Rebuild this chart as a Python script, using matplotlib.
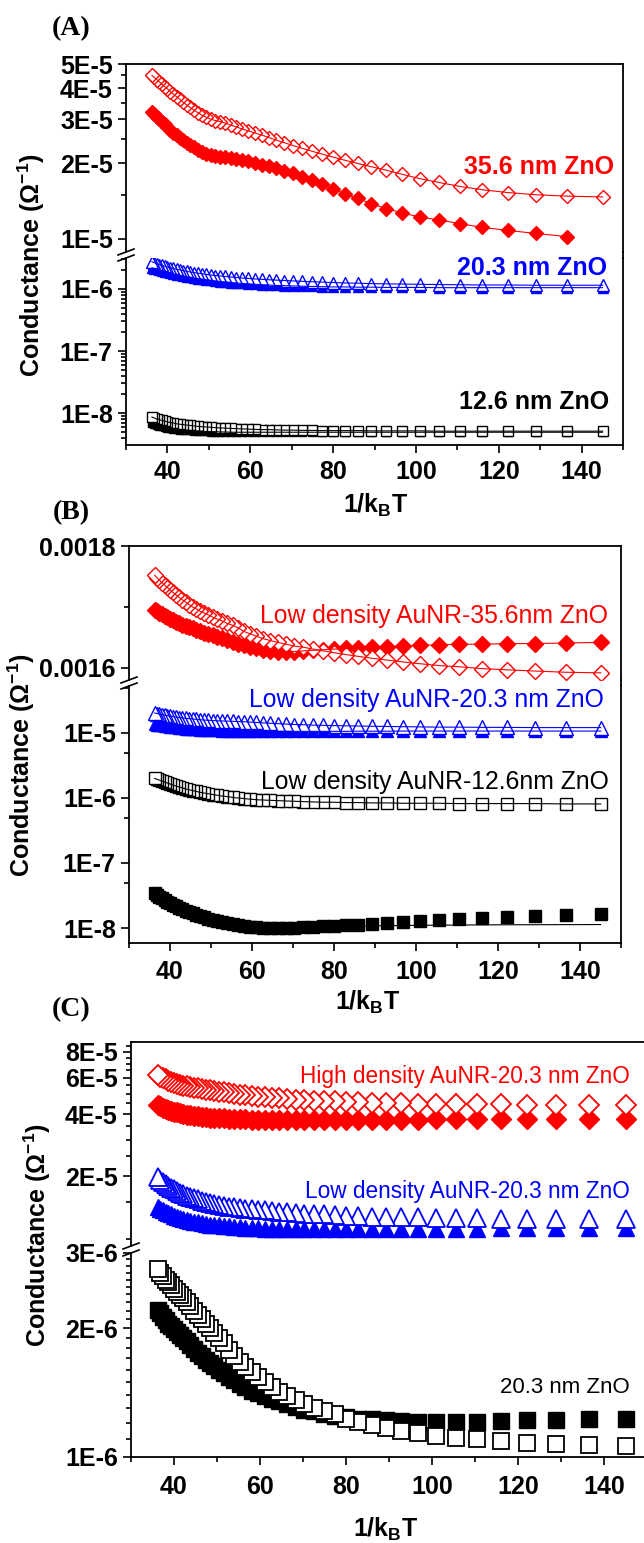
import matplotlib
matplotlib.use("Agg")
import matplotlib.pyplot as plt
import numpy as np
from matplotlib.lines import Line2D
from matplotlib.ticker import FixedLocator, FixedFormatter, NullFormatter

plt.rcParams['font.family'] = ['Liberation Sans', 'DejaVu Sans']
plt.rcParams['font.weight'] = 'bold'
plt.rcParams['mathtext.fontset'] = 'custom'
plt.rcParams['mathtext.rm'] = 'Liberation Sans'
plt.rcParams['mathtext.it'] = 'Liberation Sans:italic'
plt.rcParams['mathtext.bf'] = 'Liberation Sans:bold'

W, H = 644, 1543

# ---- data ----
# temperature sweep (K); x axis is 1/kBT (eV^-1)
temps = [320, 315, 310, 305, 300, 295, 290, 285, 280, 275, 270, 265, 260, 255,
         250, 245, 240, 235, 230, 225, 220, 215, 210, 205, 200, 195, 190, 185,
         180, 175, 170, 165, 160, 155, 150, 145, 140, 135, 130, 125, 120, 115,
         110, 105, 100, 95, 90, 85, 80]
kB = 8.617e-5
x = 1.0 / (kB * np.array(temps, dtype=float))

# (A) bare ZnO films
a_open_red = [4.50, 4.42, 4.33, 4.24, 4.15, 4.06, 3.97, 3.88, 3.79, 3.70, 3.61, 3.52, 3.43, 3.35,
              3.27, 3.19, 3.12, 3.06, 3.01, 2.97, 2.94, 2.90, 2.85, 2.80, 2.75, 2.70, 2.65, 2.60,
              2.54, 2.48, 2.42, 2.36, 2.30, 2.24, 2.18, 2.12, 2.06, 2.00, 1.94, 1.88, 1.81, 1.74,
              1.68, 1.62, 1.57, 1.53, 1.50, 1.48, 1.47]  # x1e-5
a_fill_red = [3.22, 3.15, 3.08, 3.01, 2.94, 2.87, 2.80, 2.73, 2.66, 2.60, 2.54, 2.48, 2.42, 2.37,
              2.32, 2.27, 2.23, 2.19, 2.16, 2.14, 2.13, 2.12, 2.10, 2.08, 2.06, 2.04, 2.01, 1.98,
              1.95, 1.91, 1.87, 1.83, 1.77, 1.71, 1.65, 1.58, 1.51, 1.45, 1.38, 1.32, 1.27, 1.22,
              1.19, 1.15, 1.11, 1.08, 1.05, 1.02]  # x1e-5, stops at 85 K
a_open_blue = [2.75, 2.65, 2.56, 2.48, 2.40, 2.33, 2.26, 2.20, 2.14, 2.08, 2.03, 1.98, 1.93, 1.88,
               1.84, 1.80, 1.76, 1.72, 1.68, 1.65, 1.62, 1.59, 1.56, 1.53, 1.50, 1.48, 1.45, 1.43,
               1.41, 1.39, 1.37, 1.35, 1.33, 1.31, 1.29, 1.27, 1.25, 1.24, 1.22, 1.21, 1.20, 1.19,
               1.18, 1.17, 1.16, 1.16, 1.15, 1.15, 1.15]  # x1e-6
a_fill_blue = [2.20, 2.13, 2.07, 2.01, 1.95, 1.90, 1.85, 1.80, 1.75, 1.70, 1.66, 1.62, 1.58, 1.54,
               1.50, 1.47, 1.44, 1.41, 1.38, 1.35, 1.32, 1.30, 1.27, 1.25, 1.23, 1.21, 1.19, 1.17,
               1.16, 1.14, 1.13, 1.12, 1.11, 1.10, 1.09, 1.08, 1.08, 1.07, 1.07, 1.06, 1.06, 1.06,
               1.05, 1.05, 1.05, 1.05, 1.05, 1.05, 1.05]  # x1e-6
a_open_black = [8.6, 8.3, 8.0, 7.8, 7.6, 7.4, 7.2, 7.0, 6.9, 6.7, 6.6, 6.5, 6.4, 6.3,
                6.2, 6.1, 6.0, 5.95, 5.9, 5.8, 5.75, 5.7, 5.65, 5.6, 5.55, 5.5, 5.45, 5.4,
                5.4, 5.35, 5.3, 5.3, 5.25, 5.25, 5.2, 5.2, 5.2, 5.2, 5.15, 5.15, 5.15, 5.15,
                5.1, 5.1, 5.1, 5.1, 5.1, 5.1, 5.1]  # x1e-9
a_fill_black = [6.8, 6.6, 6.4, 6.25, 6.1, 5.95, 5.8, 5.7, 5.6, 5.5, 5.4, 5.35, 5.3, 5.25,
                5.2, 5.15, 5.1, 5.05, 5.0, 5.0, 4.95, 4.95, 4.9, 4.9, 4.9, 4.9, 4.9, 4.9,
                4.9, 4.9, 4.9, 4.9, 4.9, 4.9, 4.9, 4.9, 4.9, 4.9, 4.9, 4.9, 4.9, 4.9,
                4.9, 4.9, 4.9, 4.9, 4.9, 4.9, 4.9]  # x1e-9

# (B) low density AuNR on ZnO
b_open_red = [1.752, 1.748, 1.744, 1.740, 1.736, 1.732, 1.728, 1.724, 1.720, 1.716, 1.712, 1.708,
              1.704, 1.700, 1.697, 1.693, 1.690, 1.687, 1.683, 1.680, 1.677, 1.673, 1.670, 1.666,
              1.660, 1.656, 1.652, 1.648, 1.645, 1.642, 1.639, 1.636, 1.634, 1.631, 1.628, 1.625,
              1.622, 1.619, 1.616, 1.613, 1.610, 1.607, 1.604, 1.602, 1.599, 1.597, 1.595, 1.593,
              1.592]  # x1e-3
b_fill_red = [1.695, 1.693, 1.690, 1.688, 1.685, 1.683, 1.680, 1.678, 1.675, 1.673, 1.671, 1.669,
              1.667, 1.665, 1.663, 1.661, 1.658, 1.656, 1.654, 1.651, 1.649, 1.646, 1.643, 1.640,
              1.637, 1.634, 1.632, 1.630, 1.628, 1.627, 1.627, 1.627, 1.628, 1.629, 1.630, 1.631,
              1.632, 1.633, 1.634, 1.635, 1.636, 1.637, 1.638, 1.639, 1.639, 1.640, 1.640, 1.641,
              1.642]  # x1e-3
b_open_blue = [2.03, 1.99, 1.95, 1.91, 1.88, 1.85, 1.82, 1.79, 1.76, 1.73, 1.71, 1.68, 1.66, 1.64,
               1.62, 1.60, 1.58, 1.57, 1.55, 1.54, 1.53, 1.52, 1.51, 1.50, 1.49, 1.47, 1.45, 1.43,
               1.41, 1.39, 1.37, 1.35, 1.34, 1.32, 1.31, 1.30, 1.29, 1.28, 1.27, 1.26, 1.25, 1.24,
               1.23, 1.23, 1.22, 1.22, 1.21, 1.21, 1.21]  # x1e-5
b_fill_blue = [1.37, 1.35, 1.33, 1.31, 1.29, 1.27, 1.25, 1.23, 1.22, 1.20, 1.19, 1.17, 1.16, 1.15,
               1.14, 1.13, 1.12, 1.11, 1.10, 1.10, 1.09, 1.08, 1.08, 1.07, 1.07, 1.06, 1.06, 1.06,
               1.06, 1.06, 1.06, 1.06, 1.06, 1.06, 1.06, 1.06, 1.06, 1.065, 1.065, 1.065, 1.07, 1.07,
               1.07, 1.07, 1.07, 1.07, 1.07, 1.07, 1.07]  # x1e-5
b_open_black = [2.00, 1.94, 1.88, 1.82, 1.76, 1.70, 1.64, 1.58, 1.53, 1.48, 1.43, 1.38, 1.34, 1.30,
                1.26, 1.22, 1.19, 1.16, 1.13, 1.10, 1.07, 1.05, 1.02, 1.00, 0.98, 0.96, 0.94, 0.93,
                0.92, 0.91, 0.90, 0.89, 0.88, 0.87, 0.86, 0.86, 0.85, 0.85, 0.84, 0.84, 0.83, 0.83,
                0.83, 0.82, 0.82, 0.82, 0.82, 0.81, 0.81]  # x1e-6
b_fill_black = [3.45, 3.25, 3.05, 2.87, 2.70, 2.55, 2.41, 2.28, 2.16, 2.05, 1.95, 1.85, 1.76, 1.68,
                1.60, 1.53, 1.46, 1.40, 1.34, 1.29, 1.24, 1.19, 1.15, 1.11, 1.08, 1.05, 1.03, 1.01,
                1.00, 1.00, 1.00, 1.01, 1.02, 1.04, 1.06, 1.08, 1.10, 1.13, 1.16, 1.20, 1.23, 1.27,
                1.31, 1.36, 1.41, 1.46, 1.52, 1.58, 1.66]  # x1e-8
b_fit_black_x = [36.27, 40, 45, 50, 55, 60, 65, 70, 80, 90, 100, 120, 145]
b_fit_black_y = [3.45, 2.42, 1.72, 1.36, 1.16, 1.06, 1.02, 1.02, 1.05, 1.08, 1.10, 1.12, 1.13]  # x1e-8

# (C) high vs low density AuNR on 20.3 nm ZnO
c_open_red = [6.15, 6.05, 5.96, 5.88, 5.80, 5.73, 5.66, 5.60, 5.54, 5.49, 5.44, 5.40, 5.36, 5.32,
              5.28, 5.24, 5.20, 5.16, 5.12, 5.09, 5.04, 5.00, 4.96, 4.92, 4.88, 4.85, 4.82, 4.79,
              4.76, 4.73, 4.70, 4.67, 4.64, 4.62, 4.60, 4.58, 4.56, 4.54, 4.52, 4.50, 4.49, 4.48,
              4.47, 4.46, 4.45, 4.44, 4.43, 4.42, 4.42]  # x1e-5
c_fill_red = [4.42, 4.36, 4.30, 4.25, 4.20, 4.15, 4.11, 4.07, 4.03, 4.00, 3.97, 3.94, 3.92, 3.90,
              3.88, 3.86, 3.84, 3.83, 3.82, 3.81, 3.80, 3.79, 3.78, 3.77, 3.76, 3.75, 3.75, 3.74,
              3.74, 3.73, 3.73, 3.73, 3.73, 3.73, 3.73, 3.74, 3.74, 3.75, 3.75, 3.76, 3.76, 3.77,
              3.77, 3.78, 3.78, 3.79, 3.79, 3.80, 3.80]  # x1e-5
c_open_blue = [1.98, 1.93, 1.88, 1.84, 1.80, 1.76, 1.73, 1.70, 1.67, 1.64, 1.61, 1.59, 1.57, 1.55,
               1.53, 1.51, 1.49, 1.47, 1.46, 1.44, 1.43, 1.42, 1.41, 1.40, 1.39, 1.38, 1.37, 1.36,
               1.35, 1.34, 1.33, 1.32, 1.31, 1.31, 1.30, 1.29, 1.29, 1.28, 1.28, 1.27, 1.27, 1.26,
               1.26, 1.26, 1.25, 1.25, 1.25, 1.25, 1.25]  # x1e-5
c_fill_blue = [1.43, 1.40, 1.37, 1.35, 1.33, 1.31, 1.29, 1.27, 1.26, 1.24, 1.23, 1.22, 1.21, 1.20,
               1.19, 1.18, 1.17, 1.16, 1.16, 1.15, 1.15, 1.14, 1.14, 1.13, 1.13, 1.13, 1.12, 1.12,
               1.12, 1.12, 1.11, 1.11, 1.11, 1.11, 1.11, 1.11, 1.11, 1.11, 1.11, 1.115, 1.115, 1.12,
               1.12, 1.12, 1.125, 1.125, 1.13, 1.13, 1.13]  # x1e-5
c_open_black = [2.75, 2.70, 2.65, 2.60, 2.56, 2.52, 2.47, 2.43, 2.39, 2.35, 2.30, 2.25, 2.20, 2.15,
                2.10, 2.05, 2.00, 1.95, 1.90, 1.85, 1.78, 1.72, 1.67, 1.62, 1.58, 1.54, 1.50, 1.46,
                1.42, 1.39, 1.36, 1.33, 1.30, 1.28, 1.26, 1.23, 1.21, 1.19, 1.17, 1.15, 1.14, 1.12,
                1.11, 1.10, 1.09, 1.08, 1.07, 1.065, 1.06]  # x1e-6
c_fill_black = [2.21, 2.17, 2.13, 2.09, 2.05, 2.02, 1.99, 1.96, 1.93, 1.90, 1.87, 1.83, 1.79, 1.75,
                1.72, 1.69, 1.66, 1.63, 1.60, 1.57, 1.54, 1.51, 1.48, 1.46, 1.43, 1.41, 1.39, 1.37,
                1.35, 1.33, 1.31, 1.29, 1.28, 1.26, 1.25, 1.24, 1.23, 1.225, 1.22, 1.215, 1.21, 1.21,
                1.21, 1.21, 1.215, 1.22, 1.22, 1.225, 1.23]  # x1e-6

# axis ticks
x_major = [40, 60, 80, 100, 120, 140]
x_minor = [30, 50, 70, 90, 110, 130, 150]
a_up_ticks = [1e-5, 2e-5, 3e-5, 4e-5, 5e-5]
a_up_labels = ['1E-5', '2E-5', '3E-5', '4E-5', '5E-5']
a_lo_ticks = [1e-8, 1e-7, 1e-6]
a_lo_labels = ['1E-8', '1E-7', '1E-6']
b_up_ticks = [0.0016, 0.0018]
b_up_labels = ['0.0016', '0.0018']
b_lo_ticks = [1e-8, 1e-7, 1e-6, 1e-5]
b_lo_labels = ['1E-8', '1E-7', '1E-6', '1E-5']
c_up_ticks = [2e-5, 4e-5, 6e-5, 8e-5]
c_up_labels = ['2E-5', '4E-5', '6E-5', '8E-5']
c_lo_ticks = [1e-6, 2e-6, 3e-6]
c_lo_labels = ['1E-6', '2E-6', '3E-6']

RED = '#ff0000'
BLUE = '#0000ff'
BLACK = '#000000'

fig = plt.figure(figsize=(W / 100, H / 100), dpi=100)


def px_axes(left, top, right, bottom):
    return fig.add_axes([left / W, 1 - bottom / H, (right - left) / W, (bottom - top) / H])


def style(ax, part, xpad=5):
    for s in ax.spines.values():
        s.set_linewidth(1.3)
    ax.tick_params(which='both', direction='out', width=1.2, labelsize=18,
                   right=False, top=False, pad=3.5)
    ax.tick_params(which='major', length=6)
    ax.tick_params(which='minor', length=3.6)
    ax.tick_params(axis='x', pad=xpad)
    ax.set_xlim(30, 150)
    ax.xaxis.set_major_locator(FixedLocator(x_major))
    ax.xaxis.set_minor_locator(FixedLocator(x_minor))
    if part == 'upper':
        ax.spines['bottom'].set_visible(False)
        ax.tick_params(axis='x', which='both', bottom=False, labelbottom=False)
    else:
        ax.spines['top'].set_visible(False)


def yticks(ax, ticks, labels, minor):
    ax.yaxis.set_major_locator(FixedLocator(ticks))
    ax.yaxis.set_major_formatter(FixedFormatter(labels))
    ax.yaxis.set_minor_locator(FixedLocator(minor))
    ax.yaxis.set_minor_formatter(NullFormatter())


def series(ax, ys, scale, marker, color, ms, filled, line=True, mew=1.0, xs=None):
    if xs is None:
        xs = x[:len(ys)]
    xs = np.asarray(xs)[::-1]
    ys = np.asarray(ys)[::-1] * scale
    ax.plot(xs, ys, linestyle='none', marker=marker, ms=ms, mew=mew, mec=color,
            mfc=color if filled else 'white', zorder=3 if filled else 4)
    if line:
        ax.plot(xs, ys, '-', color=color, lw=0.8, zorder=5)


def fit_line(ax, xs, ys, scale, color):
    ax.plot(xs, np.asarray(ys) * scale, '-', color=color, lw=0.8, zorder=5)


def breaks(left, right, y1, y2):
    # "//" marks on the left spine, right spine kept continuous
    for yb in (y1, y2):
        fig.add_artist(Line2D([(left - 8) / W, (left + 8) / W],
                              [1 - (yb + 3) / H, 1 - (yb - 3) / H],
                              color='black', lw=1.2))
    fig.add_artist(Line2D([right / W, right / W], [1 - y1 / H, 1 - y2 / H],
                          color='black', lw=1.3))


def ftext(xp, yp, s, **kw):
    fig.text(xp / W, 1 - yp / H, s, **kw)


# ---------------- panel A ----------------
axA1 = px_axes(126, 64, 623, 252)
axA2 = px_axes(126, 258, 623, 445)
for ax, part in ((axA1, 'upper'), (axA2, 'lower')):
    ax.set_yscale('log')
    style(ax, part, xpad=5)
axA1.set_ylim(8.85e-6, 5e-5)
axA2.set_ylim(3.05e-9, 3.16e-6)
yticks(axA1, a_up_ticks, a_up_labels, [1.5e-5, 2.5e-5, 3.5e-5, 4.5e-5])
yticks(axA2, a_lo_ticks, a_lo_labels,
       [m * 10.0 ** e for e in (-9, -8, -7, -6) for m in range(2, 10)])

series(axA1, a_fill_red, 1e-5, 'D', RED, 7.5, True)
series(axA1, a_open_red, 1e-5, 'D', RED, 7.5, False)
series(axA2, a_fill_blue, 1e-6, '^', BLUE, 7, True)
series(axA2, a_open_blue, 1e-6, '^', BLUE, 9, False)
series(axA2, a_fill_black, 1e-9, 's', BLACK, 6, True)
series(axA2, a_open_black, 1e-9, 's', BLACK, 7.5, False)
breaks(126, 623, 252, 258)

ftext(614, 174, '35.6 nm ZnO', color=RED, fontsize=18, ha='right', va='baseline')
ftext(607, 275, '20.3 nm ZnO', color=BLUE, fontsize=18, ha='right', va='baseline')
ftext(609, 409, '12.6 nm ZnO', color=BLACK, fontsize=18, ha='right', va='baseline')

# ---------------- panel B ----------------
axB1 = px_axes(129, 546, 621, 680)
axB2 = px_axes(129, 686, 621, 943)
style(axB1, 'upper')
axB2.set_yscale('log')
style(axB2, 'lower', xpad=6.5)
axB1.set_ylim(0.0015803, 0.0018)
axB2.set_ylim(5.88e-9, 5.28e-5)
yticks(axB1, b_up_ticks, b_up_labels, [0.0017])
yticks(axB2, b_lo_ticks, b_lo_labels, [5e-8, 5e-7, 5e-6, 5e-5])

series(axB1, b_fill_red, 1e-3, 'D', RED, 8, True)
series(axB1, b_open_red, 1e-3, 'D', RED, 8, False)
series(axB2, b_fill_blue, 1e-5, '^', BLUE, 8, True)
series(axB2, b_open_blue, 1e-5, '^', BLUE, 10, False)
series(axB2, b_fill_black, 1e-8, 's', BLACK, 8, True, line=False)
fit_line(axB2, b_fit_black_x, b_fit_black_y, 1e-8, BLACK)
series(axB2, b_open_black, 1e-6, 's', BLACK, 8, False)
breaks(129, 621, 680, 686)

ftext(608, 623, 'Low density AuNR-35.6nm ZnO', color=RED, fontsize=17.8,
      fontweight='normal', ha='right', va='baseline')
ftext(604, 707, 'Low density AuNR-20.3 nm ZnO', color=BLUE, fontsize=17.8,
      fontweight='normal', ha='right', va='baseline')
ftext(609, 789, 'Low density AuNR-12.6nm ZnO', color=BLACK, fontsize=17.8,
      fontweight='normal', ha='right', va='baseline')

# ---------------- panel C ----------------
axC1 = px_axes(131, 1042, 647, 1246)
axC2 = px_axes(131, 1253, 647, 1457)
for ax, part in ((axC1, 'upper'), (axC2, 'lower')):
    ax.set_yscale('log')
    style(ax, part, xpad=7)
axC1.set_ylim(9.23e-6, 8.91e-5)
axC2.set_ylim(1e-6, 3.0e-6)
yticks(axC1, c_up_ticks, c_up_labels,
       [1.0e-5, 1.5e-5, 2.5e-5, 3e-5, 3.5e-5, 4.5e-5, 5e-5, 5.5e-5, 6.5e-5, 7e-5, 7.5e-5, 8.5e-5])
yticks(axC2, c_lo_ticks, c_lo_labels,
       [(10 + k) * 1e-7 for k in range(1, 20) if k != 10])

series(axC1, c_fill_red, 1e-5, 'D', RED, 10.5, True, line=False)
series(axC1, c_open_red, 1e-5, 'D', RED, 10.5, False, line=False, mew=1.3)
series(axC1, c_fill_blue, 1e-5, '^', BLUE, 12, True, line=False)
series(axC1, c_open_blue, 1e-5, '^', BLUE, 13, False, line=False, mew=1.3)
series(axC2, c_fill_black, 1e-6, 's', BLACK, 11, True, line=False)
series(axC2, c_open_black, 1e-6, 's', BLACK, 11, False, line=False, mew=1.3)
breaks(131, 647, 1246, 1253)

ftext(630, 1083, 'High density AuNR-20.3 nm ZnO', color=RED, fontsize=16.3,
      fontweight='normal', ha='right', va='baseline')
ftext(630, 1198, 'Low density AuNR-20.3 nm ZnO', color=BLUE, fontsize=16.3,
      fontweight='normal', ha='right', va='baseline')
ftext(630, 1393, '20.3 nm ZnO', color=BLACK, fontsize=16,
      fontweight='normal', ha='right', va='baseline')

# ---------------- shared labels ----------------
ylab = 'Conductance (\u03a9$^{-1}$)'
ftext(31, 265, ylab, fontsize=18, rotation=90, ha='center', va='center')
ftext(21, 765, ylab, fontsize=18, rotation=90, ha='center', va='center')
ftext(37, 1235, ylab, fontsize=18, rotation=90, ha='center', va='center')

xlab = '1/k$_\\mathbf{B}$T'
ftext(376, 513, xlab, fontsize=18, ha='center', va='baseline')
ftext(368, 1010, xlab, fontsize=18, ha='center', va='baseline')
ftext(386, 1537, xlab, fontsize=18, ha='center', va='baseline')

for lab, yp in (('(A)', 29), ('(B)', 513), ('(C)', 1010)):
    ftext(71, yp, lab, fontsize=20, family='Liberation Serif', ha='center', va='center')

fig.savefig('out.png', dpi=100)
